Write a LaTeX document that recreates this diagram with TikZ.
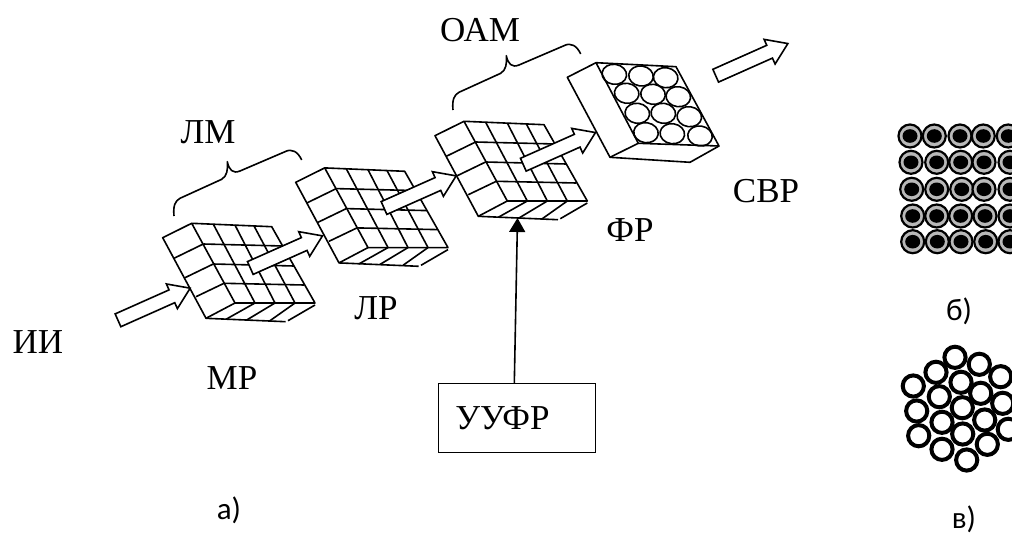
\documentclass[tikz,border=0pt]{standalone}
\usepackage{fontspec}
\setmainfont{Liberation Serif}
\newfontfamily\subfont{Carlito}
\usetikzlibrary{arrows.meta}
\newcommand{\cellblock}[2]{%
\begin{scope}[shift={(#1,#2)}]
\draw[blockline] (191.7,223.3) -- (271.7,226.7) -- (315,303) -- (235,303) -- cycle;
\draw[blockline] (191.7,223.3) -- (162.7,237.7) -- (206,318.3) -- (285.7,321.7);
\draw[blockline] (206,318.3) -- (235,303);
\draw[blockline] (288,320.7) -- (315,305);
\foreach \tx/\ty/\bx in {213.3/224.2/255,235/225.1/275,254/225.9/295} \draw[blockline] (\tx,\ty) -- (\bx,303);
\foreach \lx/\ly/\rx/\ry in {203.3/244/283/246,213.3/264/294/266,224/283.3/304/285} \draw[blockline] (\lx,\ly) -- (\rx,\ry);
\foreach \lx/\ly/\rx/\ry in {203.3/244/174/258.3,213.3/264/185/277.7,224/283.3/196/296.7} \draw[blockline] (\lx,\ly) -- (\rx,\ry);
\foreach \tx/\bx/\by in {255/226/319.3,275/246.7/320,295/270/320.7} \draw[blockline] (\tx,303) -- (\bx,\by);
\end{scope}}
\newcommand{\curlybrace}[2]{%
\draw[blockline,shift={(#1,#2)}] (174,216) .. controls (173,206) and (175,201) .. (180,198.3) -- (221.7,179.3) .. controls (227,176) and (228,170) .. (227.3,161.7) .. controls (229,170) and (233,174) .. (240,171) -- (285,151.7) .. controls (292,148) and (298,152) .. (301.7,160);}
\begin{document}
\begin{tikzpicture}[x=1pt,y=-1pt,
  blockline/.style={line width=1.6pt,line join=round},
  bigarrow/.style={line width=1.6pt,fill=white,line join=miter},
  lbl/.style={inner sep=0pt,font=\fontsize{35}{38}\selectfont},
  sublbl/.style={inner sep=0pt,font=\subfont\fontsize{31}{33}\selectfont},
  pore/.style={line width=1.6pt},
  graytube/.style={draw=black,line width=2.2pt,fill=black!28},
  tubehole/.style={fill=black},
  ringtube/.style={draw=black,line width=4pt,fill=white}]
\clip (0,0) rectangle (1012,535);
\fill[white] (0,0) rectangle (1012,535);
\cellblock{0}{0}
\cellblock{133}{-55.4}
\cellblock{272.3}{-102}
\draw[blockline] (596,62.7) -- (676,66.7) -- (719,146) -- (638.3,143.3) -- cycle;
\draw[blockline] (596,62.7) -- (567.3,77.3) -- (610,157.3) -- (690,162.3) -- (719,146);
\draw[blockline] (610,157.3) -- (638.3,143.3);
\foreach \cx/\cy in {614.3/74.3,641/76,665.7/77.7,626.7/93.3,653/94.3,678.3/96.7,637.3/113.3,663.3/113.3,689.3/116.7,646/132.7,672.3/133.7,700/136}
  \draw[pore,shift={(\cx,\cy)},rotate=-8] (0,0) ellipse (12.3 and 10);
\foreach \ax/\ay in {118/320.3,250.3/268,384/208,523.3/164.7,715.7/75.7}
  \draw[bigarrow,shift={(\ax,\ay)},rotate=24] (0,-7) -- (59,-7) -- (59,-13.5) -- (79,0) -- (59,13.5) -- (59,7) -- (0,7) -- cycle;
\curlybrace{0}{0}
\curlybrace{279}{-106}
\node[lbl] (ii) at (38,342) {ИИ};
\node[lbl] (mr) at (232,378) {МР};
\node[lbl] (lm) at (208,132) {ЛМ};
\node[lbl] (lr) at (376,308) {ЛР};
\node[lbl] (oam) at (480,30) {ОАМ};
\node[lbl] (fr) at (630,230) {ФР};
\node[lbl] (svr) at (766,191) {СВР};
\node[lbl,draw,line width=1.6pt,minimum width=157pt,minimum height=69pt] (uufr) at (517,418) {УУФР\hspace*{29pt}};
\coordinate (frbase) at (517.5,218);
\coordinate (uufrtop) at (514.3,383.5);
\draw[line width=1.6pt,-{Triangle[length=14pt,width=16pt]}] (uufrtop) -- (frbase);
\node[sublbl] (a) at (229,510) {а)};
\node[sublbl] (b) at (959,311) {б)};
\node[sublbl] (v) at (964,519) {в)};
\foreach \tx/\ty in {910/136,934.3/136,960/136,983.3/136,1008.3/136,911/162.3,936.7/162.3,960.7/162.3,984/162.3,1010/162.3,911.7/189.3,936.7/189.3,961.7/189.3,984/189.3,1010/189.3,912.7/216,936.7/216,960.7/216,985/216,1010/216,912.7/241.7,937.3/241.7,961/241.7,985.7/241.7,1010/241.7} {
  \draw[graytube] (\tx,\ty) circle (11.5);
  \fill[tubehole] (\tx,\ty) ellipse (7.5 and 6.8);
}
\foreach \tx/\ty in {955/357.3,979.3/364.3,1000.7/376.7,936/372.3,961/382.3,980.7/393.3,1002.7/403.3,913.3/386,939.3/396.7,962.3/407.7,984.7/420,1008.3/429.3,916.7/411,942/422.3,962.7/434,987.3/444.3,918.7/435.7,942/449.3,966.7/460}
  \draw[ringtube] (\tx,\ty) circle (10.6);
\end{tikzpicture}
\end{document}
